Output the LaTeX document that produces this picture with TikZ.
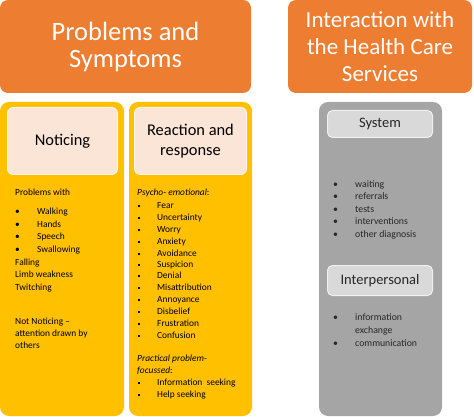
\documentclass[tikz,border=0pt]{standalone}
\usepackage{fontspec}
\setmainfont{Carlito}
\usepackage{tikz}

\definecolor{hdorange}{HTML}{ED7D31}
\definecolor{panelyellow}{HTML}{FFC000}
\definecolor{panelgrey}{HTML}{A5A5A5}
\definecolor{boxpeach}{HTML}{FBE5D6}
\definecolor{boxgrey}{HTML}{D9D9D9}
\definecolor{txtgrey}{HTML}{262626}

\newcommand{\lbul}{\makebox[22pt][l]{\textbullet}}
\newcommand{\sbul}{\makebox[19pt][l]{\raisebox{1.6pt}{\rule{2.2pt}{2.2pt}}}}
\newcommand{\gbul}{\makebox[22pt][l]{\textbullet}}

\begin{document}
\begin{tikzpicture}[x=1pt,y=-1pt,
    head/.style={fill=hdorange,rounded corners=8pt,text=white,align=center,
      inner sep=0pt,font=\fontsize{23}{27}\selectfont},
    subbox/.style={fill=boxpeach,draw=boxpeach!40!white,line width=1pt,
      rounded corners=6pt,align=center,inner sep=0pt,
      font=\fontsize{16.4}{20}\selectfont},
    greybox/.style={fill=boxgrey,draw=boxgrey!40!white,line width=1pt,
      rounded corners=5pt,align=center,inner sep=0pt,text=txtgrey,
      font=\fontsize{14.5}{16}\selectfont},
    item/.style={anchor=west,inner sep=0pt,text height=1.5ex,text depth=.3ex,
      font=\fontsize{9.4}{11}\selectfont}]
    \useasboundingbox (0,0) rectangle (474,417);

    % headers
    \node[head,minimum width=251pt,minimum height=93pt,font=\fontsize{26.5}{27}\selectfont] (H1) at (125.5,46.5) {Problems and\\Symptoms};
    \node[head,minimum width=184pt,minimum height=93pt] (H2) at (380,46.5) {Interaction with\\the Health Care\\Services};

    % panels
    \fill[panelyellow,rounded corners=9pt] (0,102) rectangle (124,416);
    \fill[panelyellow,rounded corners=9pt] (129,102) rectangle (252,416);
    \fill[panelgrey,rounded corners=9pt] (319,102) rectangle (442,416);

    \node[subbox,minimum width=110pt,minimum height=67pt] (B1) at (62.5,141) {Noticing};
    \node[subbox,minimum width=112pt,minimum height=67pt] (B2) at (190.5,141) {Reaction and\\response};
    \node[greybox,minimum width=105pt,minimum height=27pt] (G1) at (380,124) {System};
    \node[greybox,minimum width=105pt,minimum height=30pt] (G2) at (380,280.5) {Interpersonal};

    % noticing
    \node[item] (N01) at (15,193) {Problems with};
    \node[item] (N02) at (15,212) {\lbul Walking};
    \node[item] (N03) at (15,225) {\lbul Hands};
    \node[item] (N04) at (15,237) {\lbul Speech};
    \node[item] (N05) at (15,250) {\lbul Swallowing};
    \node[item] (N06) at (15,263) {Falling};
    \node[item] (N07) at (15,275) {Limb weakness};
    \node[item] (N08) at (15,288) {Twitching};
    \node[item] (N09) at (15,322) {Not Noticing --};
    \node[item] (N10) at (15,334) {attention drawn by};
    \node[item] (N11) at (15,346) {others};

    % reaction
    \node[item] (R01) at (137,193) {\textit{Psycho- emotional}:};
    \node[item] (R02) at (138,206) {\sbul Fear};
    \node[item] (R03) at (138,218) {\sbul Uncertainty};
    \node[item] (R04) at (138,230) {\sbul Worry};
    \node[item] (R05) at (138,242) {\sbul Anxiety};
    \node[item] (R06) at (138,254) {\sbul Avoidance};
    \node[item] (R07) at (138,265) {\sbul Suspicion};
    \node[item] (R08) at (138,276) {\sbul Denial};
    \node[item] (R09) at (138,288) {\sbul Misattribution};
    \node[item] (R10) at (138,300) {\sbul Annoyance};
    \node[item] (R11) at (138,312) {\sbul Disbelief};
    \node[item] (R12) at (138,324) {\sbul Frustration};
    \node[item] (R13) at (138,336) {\sbul Confusion};
    \node[item] (R14) at (137,359) {\textit{Practical problem-}};
    \node[item] (R15) at (137,371) {\textit{focussed}:};
    \node[item] (R16) at (138,383) {\sbul Information\ \ seeking};
    \node[item] (R17) at (138,395) {\sbul Help seeking};

    % system
    \node[item,text=txtgrey,font=\fontsize{9.8}{11}\selectfont] (S01) at (333,185) {\gbul waiting};
    \node[item,text=txtgrey,font=\fontsize{9.8}{11}\selectfont] (S02) at (333,197) {\gbul referrals};
    \node[item,text=txtgrey,font=\fontsize{9.8}{11}\selectfont] (S03) at (333,210) {\gbul tests};
    \node[item,text=txtgrey,font=\fontsize{9.8}{11}\selectfont] (S04) at (333,222) {\gbul interventions};
    \node[item,text=txtgrey,font=\fontsize{9.8}{11}\selectfont] (S05) at (333,235) {\gbul other diagnosis};
    \node[item,text=txtgrey,font=\fontsize{9.8}{11}\selectfont] (S06) at (333,318) {\gbul information};
    \node[item,text=txtgrey,font=\fontsize{9.8}{11}\selectfont] (S07) at (355,331) {exchange};
    \node[item,text=txtgrey,font=\fontsize{9.8}{11}\selectfont] (S08) at (333,344) {\gbul communication};
  \end{tikzpicture}
\end{document}
